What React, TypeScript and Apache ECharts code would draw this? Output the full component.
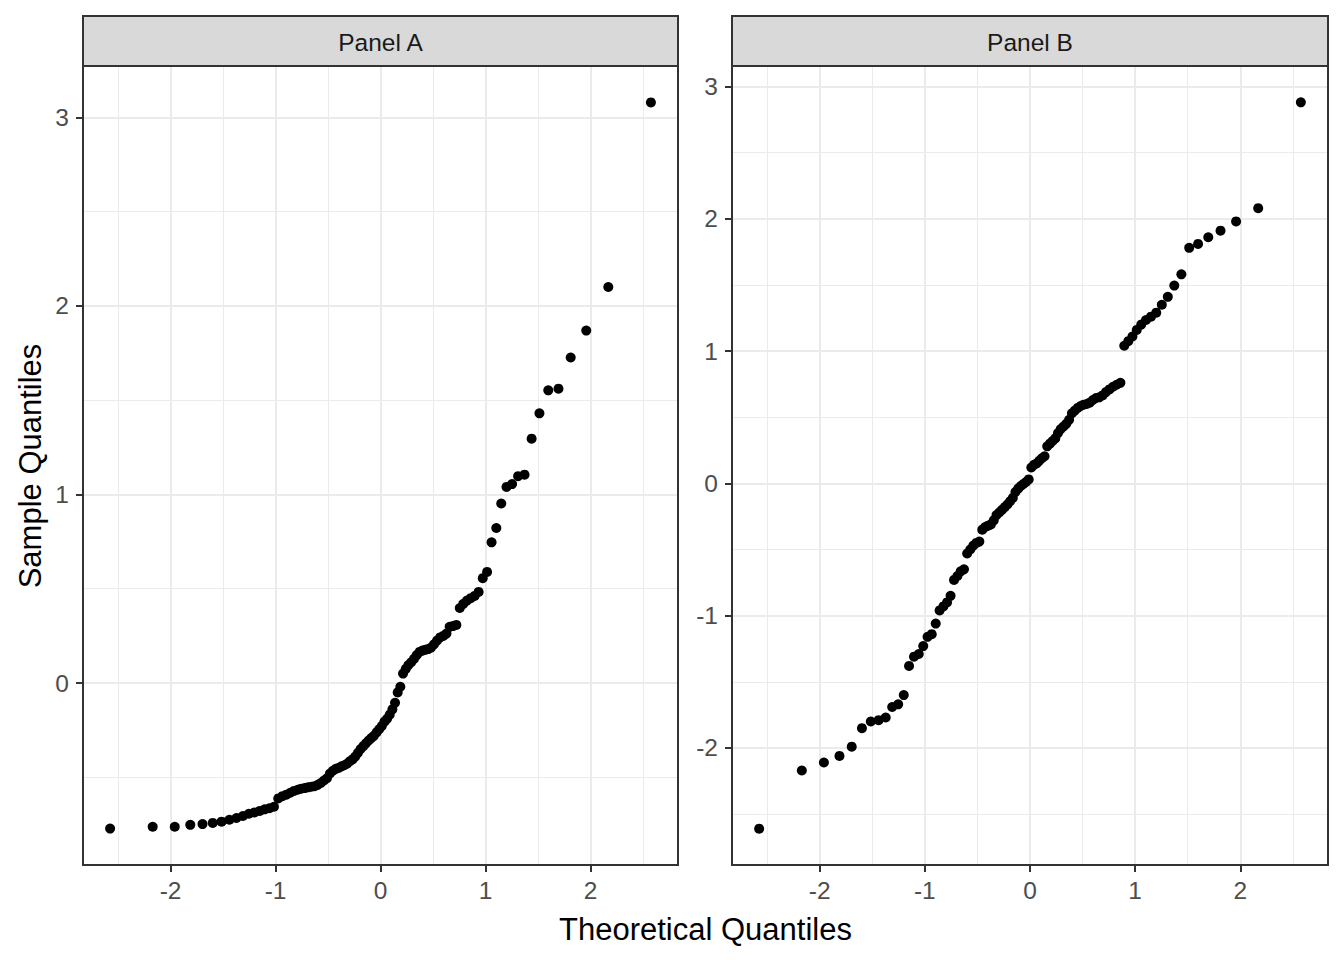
import React, { useEffect, useRef } from "react";
import * as echarts from "echarts";

// Theoretical normal quantiles for n = 100 (ppoints)
const THEORETICAL = [
  -2.5758, -2.1701, -1.96, -1.8119, -1.6954, -1.5982, -1.5141, -1.4395, -1.3722, -1.3106,
  -1.2536, -1.2004, -1.1503, -1.1031, -1.0581, -1.0152, -0.9741, -0.9346, -0.8965, -0.8596,
  -0.8239, -0.7892, -0.7554, -0.7225, -0.6903, -0.6588, -0.628, -0.5978, -0.5681, -0.5388,
  -0.5101, -0.4817, -0.4538, -0.4261, -0.3989, -0.3719, -0.3451, -0.3186, -0.2924, -0.2663,
  -0.2404, -0.2147, -0.1891, -0.1637, -0.1383, -0.113, -0.0878, -0.0627, -0.0376, -0.0125,
  0.0125, 0.0376, 0.0627, 0.0878, 0.113, 0.1383, 0.1637, 0.1891, 0.2147, 0.2404,
  0.2663, 0.2924, 0.3186, 0.3451, 0.3719, 0.3989, 0.4261, 0.4538, 0.4817, 0.5101,
  0.5388, 0.5681, 0.5978, 0.628, 0.6588, 0.6903, 0.7225, 0.7554, 0.7892, 0.8239,
  0.8596, 0.8965, 0.9346, 0.9741, 1.0152, 1.0581, 1.1031, 1.1503, 1.2004, 1.2536,
  1.3106, 1.3722, 1.4395, 1.5141, 1.5982, 1.6954, 1.8119, 1.96, 2.1701, 2.5758,
];

const SAMPLE_A = [
  -0.772, -0.762, -0.762, -0.752, -0.748, -0.742, -0.735, -0.725, -0.716, -0.705,
  -0.693, -0.686, -0.678, -0.67, -0.664, -0.656, -0.612, -0.6, -0.592, -0.582,
  -0.572, -0.566, -0.56, -0.557, -0.553, -0.55, -0.547, -0.54, -0.53, -0.517,
  -0.505, -0.48, -0.465, -0.455, -0.45, -0.442, -0.436, -0.428, -0.415, -0.405,
  -0.39, -0.37, -0.35, -0.335, -0.32, -0.305, -0.292, -0.28, -0.262, -0.245,
  -0.228, -0.205, -0.19, -0.168, -0.14, -0.105, -0.05, -0.02, 0.05, 0.075,
  0.095, 0.11, 0.128, 0.148, 0.165, 0.172, 0.176, 0.18, 0.188, 0.205,
  0.225, 0.242, 0.25, 0.262, 0.298, 0.302, 0.308, 0.398, 0.42, 0.437,
  0.45, 0.462, 0.483, 0.556, 0.589, 0.746, 0.822, 0.952, 1.04, 1.055,
  1.097, 1.105, 1.296, 1.43, 1.552, 1.561, 1.726, 1.869, 2.1, 3.079,
];

const SAMPLE_B = [
  -2.61, -2.17, -2.11, -2.06, -1.99, -1.85, -1.8, -1.79, -1.77, -1.69,
  -1.67, -1.6, -1.38, -1.31, -1.29, -1.23, -1.16, -1.14, -1.06, -0.96,
  -0.93, -0.9, -0.85, -0.73, -0.7, -0.665, -0.65, -0.53, -0.5, -0.47,
  -0.45, -0.44, -0.35, -0.33, -0.32, -0.31, -0.28, -0.24, -0.22, -0.2,
  -0.18, -0.16, -0.135, -0.11, -0.065, -0.04, -0.02, -0.005, 0.01, 0.03,
  0.12, 0.14, 0.15, 0.17, 0.19, 0.205, 0.28, 0.3, 0.32, 0.34,
  0.38, 0.41, 0.43, 0.45, 0.48, 0.53, 0.55, 0.57, 0.585, 0.595,
  0.6, 0.61, 0.63, 0.645, 0.65, 0.665, 0.69, 0.71, 0.73, 0.745,
  0.76, 1.04, 1.075, 1.11, 1.16, 1.2, 1.235, 1.26, 1.29, 1.35,
  1.41, 1.495, 1.58, 1.78, 1.81, 1.86, 1.91, 1.98, 2.08, 2.88,
];

const PANEL_TITLES = ["Panel A", "Panel B"];
const X_TICKS = [-2, -1, 0, 1, 2];
const Y_TICKS_A = [0, 1, 2, 3];
const Y_TICKS_B = [-2, -1, 0, 1, 2, 3];
const X_RANGE = [-2.834, 2.834];
const Y_RANGE_A = [-0.965, 3.272];
const Y_RANGE_B = [-2.8845, 3.1545];
const X_TITLE = "Theoretical Quantiles";
const Y_TITLE = "Sample Quantiles";

const FONT = "'Liberation Sans', Arial, Helvetica, sans-serif";

export default function App() {
  const ref = useRef<HTMLDivElement>(null);

  useEffect(() => {
    if (!ref.current) return;
    const chart = echarts.init(ref.current, undefined, { renderer: "svg" });

    const panels = [
      { left: 83, width: 595, yRange: Y_RANGE_A, yTicks: Y_TICKS_A, values: SAMPLE_A },
      { left: 732, width: 596, yRange: Y_RANGE_B, yTicks: Y_TICKS_B, values: SAMPLE_B },
    ];
    const top = 66;
    const height = 799;
    const stripTop = 16;
    const stripH = 50;

    const axisCommon = {
      axisLine: { show: false, onZero: false },
      splitLine: { show: true, lineStyle: { color: "#EBEBEB", width: 2 } },
      minorTick: { show: false, splitNumber: 2 },
      minorSplitLine: { show: true, lineStyle: { color: "#EBEBEB", width: 1 } },
    };

    const grids = panels.map((p) => ({
      left: p.left,
      top,
      width: p.width,
      height,
      show: false,
      containLabel: false,
    }));

    const xAxes = panels.map((p, i) => ({
      type: "value",
      gridIndex: i,
      position: "bottom",
      min: X_RANGE[0],
      max: X_RANGE[1],
      ...axisCommon,
      axisTick: {
        show: true,
        customValues: X_TICKS,
        length: 7,
        lineStyle: { color: "#333333", width: 2 },
      },
      axisLabel: {
        customValues: X_TICKS,
        color: "#4D4D4D",
        fontSize: 24.5,
        fontFamily: FONT,
        margin: 13,
      },
    }));

    const yAxes = panels.map((p, i) => ({
      type: "value",
      gridIndex: i,
      position: "left",
      min: p.yRange[0],
      max: p.yRange[1],
      ...axisCommon,
      axisTick: {
        show: true,
        customValues: p.yTicks,
        length: 7,
        lineStyle: { color: "#333333", width: 2 },
      },
      axisLabel: {
        customValues: p.yTicks,
        color: "#4D4D4D",
        fontSize: 24.5,
        fontFamily: FONT,
        margin: 14,
      },
    }));

    const series = panels.map((p, i) => ({
      type: "scatter",
      xAxisIndex: i,
      yAxisIndex: i,
      symbol: "circle",
      symbolSize: 10,
      itemStyle: { color: "#000000", opacity: 1 },
      z: 3,
      data: THEORETICAL.map((q, k) => [q, p.values[k]]),
    }));

    const graphics: any[] = [];
    panels.forEach((p, i) => {
      graphics.push({
        type: "rect",
        shape: { x: p.left, y: top, width: p.width, height },
        style: { fill: "none", stroke: "#333333", lineWidth: 2 },
        z: 50,
        silent: true,
      });
      graphics.push({
        type: "rect",
        shape: { x: p.left, y: stripTop, width: p.width, height: stripH },
        style: { fill: "#D9D9D9", stroke: "#333333", lineWidth: 2 },
        z: 50,
        silent: true,
      });
      graphics.push({
        type: "text",
        x: p.left + p.width / 2,
        y: stripTop + stripH / 2 + 1,
        z: 51,
        silent: true,
        style: {
          text: PANEL_TITLES[i],
          fill: "#1A1A1A",
          fontSize: 24.5,
          fontFamily: FONT,
          align: "center",
          verticalAlign: "middle",
          textAlign: "center",
          textVerticalAlign: "middle",
        },
      });
    });
    graphics.push({
      type: "text",
      x: 705.5,
      y: 929,
      z: 51,
      silent: true,
      style: {
        text: X_TITLE,
        fill: "#000000",
        fontSize: 31,
        fontFamily: FONT,
        align: "center",
        verticalAlign: "middle",
        textAlign: "center",
        textVerticalAlign: "middle",
      },
    });
    graphics.push({
      type: "text",
      x: 30,
      y: 466,
      rotation: Math.PI / 2,
      z: 51,
      silent: true,
      style: {
        text: Y_TITLE,
        fill: "#000000",
        fontSize: 31,
        fontFamily: FONT,
        align: "center",
        verticalAlign: "middle",
        textAlign: "center",
        textVerticalAlign: "middle",
      },
    });

    chart.setOption({
      animation: false,
      backgroundColor: "#FFFFFF",
      grid: grids,
      xAxis: xAxes,
      yAxis: yAxes,
      series,
      graphic: graphics,
    });

    return () => chart.dispose();
  }, []);

  return (
    <div
      ref={ref}
      style={{ position: "absolute", left: 0, top: 0, width: 1344, height: 960 }}
    />
  );
}
